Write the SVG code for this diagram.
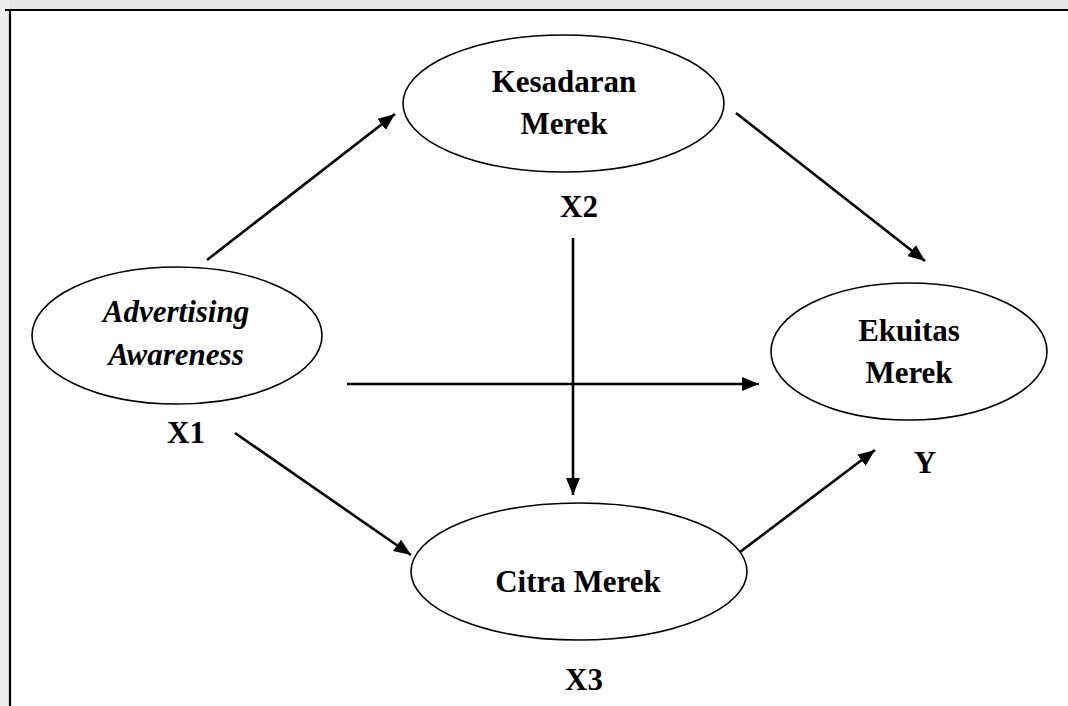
<svg xmlns="http://www.w3.org/2000/svg" width="1068" height="706" viewBox="0 0 1068 706">
  <style>
    .node ellipse { fill: #ffffff; stroke: #000000; stroke-width: 1.6; }
    text { font-family: "Liberation Serif", "Times New Roman", serif; font-weight: bold; font-size: 31px; fill: #000000; text-anchor: middle; }
    .it { font-style: italic; }
    .conn line { stroke: #000000; stroke-width: 2.6; marker-end: url(#arrow); }
  </style>
  <defs>
    <marker id="arrow" markerUnits="userSpaceOnUse" markerWidth="18" markerHeight="14" refX="17" refY="7" orient="auto">
      <path d="M0,0 L17,7 L0,14 z" fill="#000000"/>
    </marker>
  </defs>
  <rect x="0" y="0" width="1068" height="706" fill="#ffffff"/>
  <g id="watermark" fill="#d0d0d0">
    <rect x="0" y="0" width="1068" height="9" fill="#e6e6e6"/>
    <rect x="0" y="0" width="9" height="706" fill="#eeeeee"/>
  </g>
  <g id="frame" stroke="#000000" stroke-width="2.2" fill="none">
    <line x1="5" y1="10" x2="1068" y2="10"/>
    <line x1="10" y1="10" x2="10" y2="706"/>
  </g>
  <g id="connectors" class="conn">
    <line x1="207" y1="260" x2="395" y2="114"/>
    <line x1="736" y1="113" x2="925" y2="261"/>
    <line x1="347" y1="384" x2="759" y2="384"/>
    <line x1="573" y1="238" x2="573" y2="495"/>
    <line x1="235" y1="433" x2="411" y2="555"/>
    <line x1="740" y1="552" x2="875" y2="450"/>
  </g>
  <g id="node-x1" class="node">
    <ellipse cx="177" cy="335.5" rx="145" ry="68.5"/>
    <text class="it" x="176" y="322">Advertising</text>
    <text class="it" x="176" y="365">Awareness</text>
    <text x="186" y="443">X1</text>
  </g>
  <g id="node-x2" class="node">
    <ellipse cx="563.5" cy="103.5" rx="160.5" ry="68.5"/>
    <text x="564" y="92">Kesadaran</text>
    <text x="564" y="134">Merek</text>
    <text x="579" y="217">X2</text>
  </g>
  <g id="node-y" class="node">
    <ellipse cx="909" cy="351.5" rx="138" ry="68.5"/>
    <text x="909" y="341">Ekuitas</text>
    <text x="909" y="383">Merek</text>
    <text x="925" y="473">Y</text>
  </g>
  <g id="node-x3" class="node">
    <ellipse cx="579" cy="571.5" rx="168" ry="68.5"/>
    <text x="578" y="592">Citra Merek</text>
    <text x="584" y="690">X3</text>
  </g>
</svg>
